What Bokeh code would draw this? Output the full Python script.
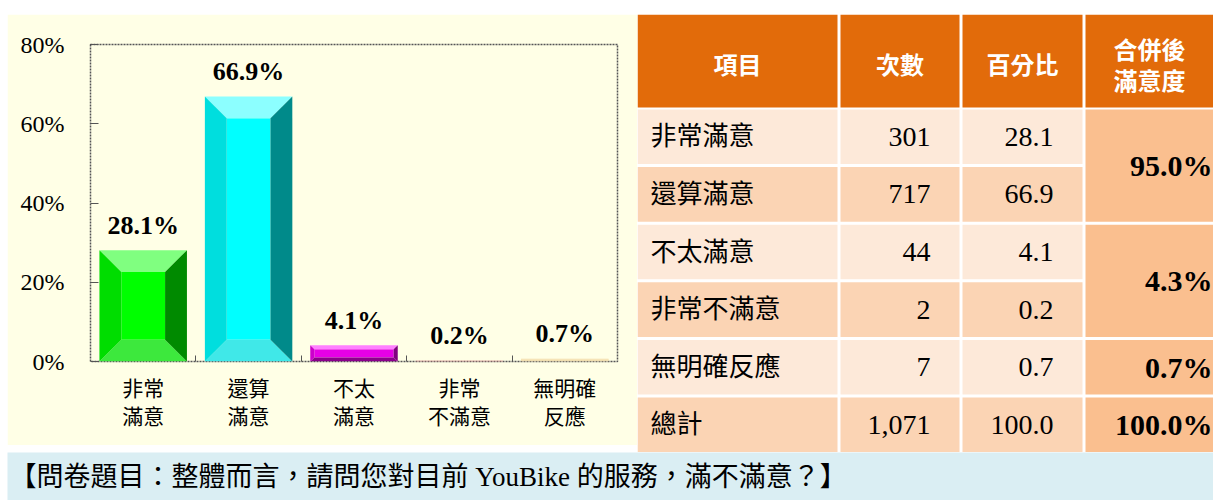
from bokeh.plotting import figure
from bokeh.models import Range1d, FixedTicker, LinearAxis, PrintfTickFormatter, Spacer
from bokeh.layouts import column, row
from bokeh.core.properties import value
from bokeh.embed import file_html
from bokeh.resources import INLINE

# ---------------- data ----------------
cat_line1 = ["非常", "還算", "不太", "非常", "無明確"]
cat_line2 = ["滿意", "滿意", "滿意", "不滿意", "反應"]
pct = [28.1, 66.9, 4.1, 0.2, 0.7]
counts = [301, 717, 44, 2, 7]
items = ["非常滿意", "還算滿意", "不太滿意", "非常不滿意", "無明確反應"]
total_label = "總計"
groups = [[0, 1], [2, 3], [4]]
y_ticks = [0, 20, 40, 60, 80]
headers = ["項目", "次數", "百分比", "合併後\n滿意度"]
question = "【問卷題目：整體而言，請問您對目前 YouBike 的服務，滿不滿意？】"

# ---------------- styles ----------------
SERIF = "Liberation Serif"
MIX = "Liberation Serif, Noto Sans CJK TC"
CJK = "Noto Sans CJK TC"
BG = "#FFFFE6"
face_c = ["#00FF00", "#00FFFF", "#E600E6", "#FF9999", "#F3DCA8"]
top_c = ["#80FF80", "#8CFFFF", "#FF80FF", "#FF9999", "#F3DCA8"]
bot_c = ["#3DE83D", "#40E8E8", "#8B008B", "#FF9999", "#F3DCA8"]
left_c = ["#00DD00", "#00DEDE", "#CC00CC", "#FF9999", "#F3DCA8"]
right_c = ["#008A00", "#008A8A", "#800080", "#FF9999", "#F3DCA8"]

n = len(pct)
FW, FH = 527, 317
ML, MR, MT, MB = 83, 20, 30, 84
YMAX = y_ticks[-1]

p = figure(width=ML + FW + MR, height=MT + FH + MB,
           x_range=Range1d(0, n), y_range=Range1d(0, YMAX),
           output_backend="svg", toolbar_location=None,
           min_border_left=ML, min_border_right=MR,
           min_border_top=MT, min_border_bottom=MB)
p.frame_align = False
p.background_fill_color = BG
p.border_fill_color = BG
p.grid.visible = False
p.outline_line_color = "#555555"
p.outline_line_dash = "2 1"
p.outline_line_width = 1.5

# bars with bevel
px_x = FW / n
px_y = FH / YMAX
bw = 0.83
centers = [i + 0.5 for i in range(n)]
xs, ys, cols = [], [], []
fl, fr, fb, ft = [], [], [], []
for i, v in enumerate(pct):
    c = centers[i]
    x0, x1 = c - bw / 2, c + bw / 2
    b_px = 0.25 * min(bw * px_x, v * px_y)
    dx, dy = b_px / px_x, b_px / px_y
    xi0, xi1, yi0, yi1 = x0 + dx, x1 - dx, dy, v - dy
    xs += [[x0, x1, xi1, xi0], [x0, x1, xi1, xi0], [x0, x0, xi0, xi0], [x1, x1, xi1, xi1]]
    ys += [[v, v, yi1, yi1], [0, 0, yi0, yi0], [0, v, yi1, yi0], [0, v, yi1, yi0]]
    cols += [top_c[i], bot_c[i], left_c[i], right_c[i]]
    fl.append(xi0); fr.append(xi1); fb.append(yi0); ft.append(yi1)
p.quad(left=fl, right=fr, bottom=fb, top=ft, fill_color=face_c, line_color=None)
p.patches(xs, ys, fill_color=cols, line_color=None)

p.text(x=centers, y=pct, text=[f"{v:.1f}%" for v in pct],
       text_font=value(SERIF), text_font_style="bold", text_font_size="26px",
       text_align="center", text_baseline="alphabetic", y_offset=-25, text_color="black")

# y axis
ya = p.yaxis[0]
ya.ticker = FixedTicker(ticks=y_ticks)
ya.formatter = PrintfTickFormatter(format="%d%%")
ya.major_label_text_font = SERIF
ya.major_label_text_font_size = "24px"
ya.major_label_text_color = "black"
ya.axis_line_color = None
ya.major_tick_in = 8
ya.major_tick_out = 0
ya.major_tick_line_color = "#555555"
ya.minor_tick_line_color = None
ya.major_label_standoff = 26

# x axes (two lines of category labels)
bounds = [i for i in range(1, n)]
xa = p.xaxis[0]
xa.ticker = FixedTicker(ticks=centers, minor_ticks=bounds)
xa.major_label_overrides = {centers[i]: cat_line1[i] for i in range(n)}
xa.major_label_text_font = CJK
xa.major_label_text_font_size = "21px"
xa.major_label_text_color = "black"
xa.axis_line_color = None
xa.major_tick_line_color = None
xa.minor_tick_in = 6
xa.minor_tick_out = 0
xa.minor_tick_line_color = "#555555"
xa.major_label_standoff = 4

xa2 = LinearAxis(ticker=FixedTicker(ticks=centers),
                 major_label_overrides={centers[i]: cat_line2[i] for i in range(n)},
                 major_label_text_font=CJK, major_label_text_font_size="21px",
                 major_label_text_color="black", axis_line_color=None,
                 major_tick_line_color=None, minor_tick_line_color=None,
                 major_label_standoff=-11)
p.add_layout(xa2, "below")

# ---------------- table ----------------
T_W, T_H = 576, 438
col_x = [(0, 200), (203, 322), (325, 445), (448, 576)]
HDR_H = 93
ROW0, PITCH, RH = 95, 57.6, 54.6
HDR_C = "#E26B0A"
LIGHT, DARK, MERGE = "#FDE9D9", "#FBD4B4", "#FABF8F"

t = figure(width=T_W, height=T_H, x_range=Range1d(0, T_W), y_range=Range1d(T_H, 0),
           output_backend="svg", toolbar_location=None, min_border=0,
           x_axis_location=None, y_axis_location=None)
t.frame_align = False
t.grid.visible = False
t.outline_line_color = None
t.background_fill_color = "white"
t.border_fill_color = "white"

row_labels = items + [total_label]
row_counts = counts + [sum(counts)]
row_pcts = pct + [round(sum(pct), 1)]
nrows = len(row_labels)
row_top = [ROW0 + i * PITCH for i in range(nrows)]

ql, qr, qt, qb, qc = [], [], [], [], []
for j in range(4):
    ql.append(col_x[j][0]); qr.append(col_x[j][1]); qt.append(0); qb.append(HDR_H); qc.append(HDR_C)
for i in range(nrows):
    for j in range(3):
        ql.append(col_x[j][0]); qr.append(col_x[j][1])
        qt.append(row_top[i]); qb.append(row_top[i] + RH)
        qc.append(LIGHT if i % 2 == 0 else DARK)
merge_spans = groups + [list(range(n))]
merge_rows = [[g[0], g[-1]] for g in groups] + [[nrows - 1, nrows - 1]]
for (a, b) in merge_rows:
    ql.append(col_x[3][0]); qr.append(col_x[3][1])
    qt.append(row_top[a]); qb.append(row_top[b] + RH); qc.append(MERGE)
t.quad(left=ql, right=qr, top=qt, bottom=qb, fill_color=qc, line_color=None)

# header text
hx, hy, ht = [], [], []
for j, h in enumerate(headers):
    lines = h.split("\n")
    cx = (col_x[j][0] + col_x[j][1]) / 2
    for k, ln in enumerate(lines):
        hx.append(cx)
        hy.append(49 + (k - (len(lines) - 1) / 2) * 31)
        ht.append(ln)
t.text(x=hx, y=hy, text=ht, text_font=value(CJK), text_font_style="bold",
       text_font_size="24px", text_color="white", text_align="center", text_baseline="middle")

row_mid = [rt + RH / 2 for rt in row_top]
t.text(x=[col_x[0][0] + 13] * nrows, y=row_mid, text=row_labels, text_font=value(MIX),
       text_font_size="26px", text_color="black", text_align="left", text_baseline="middle")
t.text(x=[col_x[1][1] - 29] * nrows, y=row_mid, text=[f"{c:,}" for c in row_counts],
       text_font=value(SERIF), text_font_size="28px", text_color="black",
       text_align="right", text_baseline="middle")
t.text(x=[col_x[2][1] - 29] * nrows, y=row_mid, text=[f"{v:.1f}" for v in row_pcts],
       text_font=value(SERIF), text_font_size="28px", text_color="black",
       text_align="right", text_baseline="middle")
comb_vals = [round(sum(pct[k] for k in g), 1) for g in merge_spans]
comb_y = [(row_top[a] + row_top[b] + RH) / 2 for (a, b) in merge_rows]
t.text(x=[col_x[3][1] - 1] * len(comb_vals), y=comb_y, text=[f"{v:.1f}%" for v in comb_vals],
       text_font=value(SERIF), text_font_style="bold", text_font_size="30px",
       text_color="black", text_align="right", text_baseline="middle")

# ---------------- question bar ----------------
Q_W, Q_H = 1206, 48
q = figure(width=Q_W, height=Q_H, x_range=Range1d(0, Q_W), y_range=Range1d(Q_H, 0),
           output_backend="svg", toolbar_location=None, min_border=0,
           x_axis_location=None, y_axis_location=None)
q.frame_align = False
q.grid.visible = False
q.outline_line_color = None
q.background_fill_color = "#DAEEF3"
q.border_fill_color = "#DAEEF3"
q.text(x=[2], y=[Q_H / 2], text=[question], text_font=value(MIX), text_font_size="27px",
       text_color="black", text_align="left", text_baseline="middle")

layout = column(Spacer(width=1213, height=14),
                row(Spacer(width=7, height=T_H), p, t),
                row(Spacer(width=7, height=Q_H), q))

open("out.html", "w").write(file_html(layout, INLINE))
